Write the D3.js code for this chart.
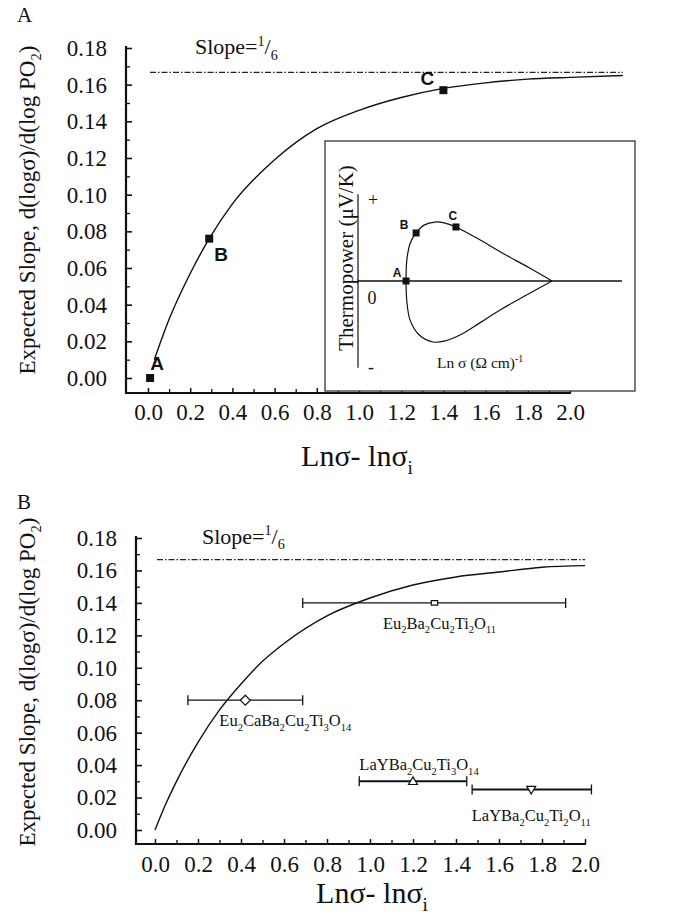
<!DOCTYPE html>
<html><head><meta charset="utf-8">
<script src="https://cdn.jsdelivr.net/npm/d3@7"></script>
<style>
body{margin:0;background:#fff}
svg text{font-family:"Liberation Serif","Times New Roman",serif;fill:#111}
</style></head><body>
<svg id="chart" width="679" height="919"></svg>
<script>
// ---- shared axis values ----
const xTickValues = [0.0, 0.2, 0.4, 0.6, 0.8, 1.0, 1.2, 1.4, 1.6, 1.8, 2.0];
const xMinorValues = [0.1, 0.3, 0.5, 0.7, 0.9, 1.1, 1.3, 1.5, 1.7, 1.9];
const yTickValues = [0.00, 0.02, 0.04, 0.06, 0.08, 0.10, 0.12, 0.14, 0.16, 0.18];
const yMinorValues = [0.01, 0.03, 0.05, 0.07, 0.09, 0.11, 0.13, 0.15, 0.17];
const slopeLimit = 1 / 6;

// ---- panel A: expected slope vs ln(sigma) - ln(sigma_i) ----
const curveAX = [0.03, 0.10, 0.20, 0.29, 0.40, 0.60, 0.80, 1.00, 1.20, 1.40, 1.60, 1.80, 2.00, 2.25];
const curveAY = [0.010, 0.032, 0.057, 0.076, 0.095, 0.119, 0.136, 0.146, 0.153, 0.158, 0.161, 0.163, 0.164, 0.165];
const stateNames = ["A", "B", "C"];
const stateX = [0.01, 0.29, 1.40];
const stateY = [0.000, 0.076, 0.157];

// inset: thermopower loop vs ln(sigma), arbitrary units
const loopUpperX = [0.182, 0.185, 0.198, 0.220, 0.250, 0.292, 0.330, 0.371, 0.450, 0.550, 0.650, 0.735];
const loopUpperY = [0.00, 0.26, 0.47, 0.593, 0.69, 0.728, 0.715, 0.667, 0.53, 0.34, 0.16, 0.00];
const loopLowerX = [0.182, 0.185, 0.197, 0.230, 0.284, 0.330, 0.386, 0.460, 0.538, 0.640, 0.735];
const loopLowerY = [0.00, -0.25, -0.48, -0.66, -0.753, -0.74, -0.667, -0.52, -0.358, -0.17, 0.00];
const loopStateX = [0.182, 0.220, 0.371];
const loopStateY = [0.000, 0.593, 0.667];

// ---- panel B: measured compounds against the expected curve ----
const curveBX = [0.00, 0.05, 0.10, 0.20, 0.30, 0.40, 0.50, 0.60, 0.80, 1.00, 1.20, 1.40, 1.60, 1.80, 2.00];
const curveBY = [0.000, 0.016, 0.030, 0.054, 0.074, 0.090, 0.104, 0.115, 0.132, 0.143, 0.151, 0.156, 0.159, 0.162, 0.163];
const sampleNames = ["Eu_{2}CaBa_{2}Cu_{2}Ti_{3}O_{14}", "Eu_{2}Ba_{2}Cu_{2}Ti_{2}O_{11}", "LaYBa_{2}Cu_{2}Ti_{3}O_{14}", "LaYBa_{2}Cu_{2}Ti_{2}O_{11}"];
const sampleX = [0.42, 1.30, 1.20, 1.75];
const sampleLo = [0.153, 0.687, 0.95, 1.475];
const sampleHi = [0.687, 1.91, 1.45, 2.03];
const sampleY = [0.080, 0.140, 0.030, 0.025];
const sampleMarker = ["diamond", "circle", "triangle", "triangleDown"];

const SERIF = "'Liberation Serif','Times New Roman',serif";
const SANS = "'Liberation Sans',Arial,sans-serif";
const svg = d3.select("#chart");

// text with _{sub} and ^{sup} runs
function rich(sel, str, size) {
  const re = /([_^])\{([^}]*)\}/g;
  let last = 0, m, cur = 0;
  sel.style("font-family", SERIF);
  function add(t, mode) {
    const target = mode === 0 ? 0 : (mode > 0 ? size * 0.26 : -size * 0.38);
    const ts = sel.append("tspan").text(t).attr("dy", target - cur);
    if (mode !== 0) ts.attr("font-size", size * 0.64);
    cur = target;
  }
  while ((m = re.exec(str))) {
    if (m.index > last) add(str.slice(last, m.index), 0);
    add(m[2], m[1] === "_" ? 1 : -1);
    last = re.lastIndex;
  }
  if (last < str.length) add(str.slice(last), 0);
  return sel;
}

function panel(cfg) {
  const g = svg.append("g");
  const x = d3.scaleLinear([0, 2], cfg.xRange);
  const y = d3.scaleLinear([0, 0.18], cfg.yRange);

  // y axis
  const ya = g.append("g").attr("transform", `translate(${cfg.axisX},0)`)
    .call(d3.axisLeft(y).tickValues(yTickValues).tickFormat(d3.format(".2f"))
      .tickSizeInner(-6).tickSizeOuter(0).tickPadding(19));
  ya.select(".domain").remove();
  ya.selectAll("line").attr("stroke", "#111").attr("stroke-width", 1.6);
  ya.selectAll("text").attr("font-size", 23).style("font-family", SERIF).attr("fill", "#111");
  const ym = g.append("g").attr("transform", `translate(${cfg.axisX},0)`)
    .call(d3.axisLeft(y).tickValues(yMinorValues).tickFormat("").tickSizeInner(-4).tickSizeOuter(0));
  ym.select(".domain").remove();
  ym.selectAll("line").attr("stroke", "#111").attr("stroke-width", 1.3);

  // x axis
  const xa = g.append("g").attr("transform", `translate(0,${cfg.axisY})`)
    .call(d3.axisBottom(x).tickValues(xTickValues).tickFormat(d3.format(".1f"))
      .tickSizeInner(-5).tickSizeOuter(0).tickPadding(cfg.xPad));
  xa.select(".domain").remove();
  xa.selectAll("line").attr("stroke", "#111").attr("stroke-width", 1.5);
  xa.selectAll("text").attr("font-size", 23).style("font-family", SERIF).attr("fill", "#111");
  const xm = g.append("g").attr("transform", `translate(0,${cfg.axisY})`)
    .call(d3.axisBottom(x).tickValues(xMinorValues).tickFormat("").tickSizeInner(-4).tickSizeOuter(0));
  xm.select(".domain").remove();
  xm.selectAll("line").attr("stroke", "#111").attr("stroke-width", 1.3);

  // axis lines
  g.append("line").attr("x1", cfg.axisX).attr("x2", cfg.axisX)
    .attr("y1", y(0.18) - 2).attr("y2", cfg.axisY + 1)
    .attr("stroke", "#111").attr("stroke-width", 2.2);
  g.append("line").attr("x1", cfg.axisX).attr("x2", x(2.0) + 1)
    .attr("y1", cfg.axisY).attr("y2", cfg.axisY)
    .attr("stroke", "#111").attr("stroke-width", 2.2);

  // titles
  const yt = g.append("text").attr("text-anchor", "middle").attr("font-size", 23)
    .attr("transform", `translate(${cfg.yTitleX},${cfg.yTitleY}) rotate(-90)`);
  rich(yt, "Expected Slope, d(logσ)/d(log PO_{2})", 23);
  const xt = g.append("text").attr("text-anchor", "middle").attr("font-size", 30)
    .attr("x", cfg.xTitleX).attr("y", cfg.xTitleY);
  rich(xt, "Lnσ- lnσ_{i}", 30);

  g.append("text").attr("x", cfg.tagX).attr("y", cfg.tagY).attr("font-size", 21)
    .style("font-family", SERIF).text(cfg.tag);

  // slope limit
  g.append("line").attr("x1", x(0.0) + 2).attr("x2", x(cfg.limitEnd))
    .attr("y1", y(slopeLimit)).attr("y2", y(slopeLimit))
    .attr("stroke", "#222").attr("stroke-width", 1.2).attr("stroke-dasharray", "6,2,1.5,2");
  const st = g.append("text").attr("x", x(0.0) + 47).attr("y", y(slopeLimit) - cfg.slopeDy).attr("font-size", 22);
  rich(st, "Slope=^{1}/_{6}", 22);

  return {g, x, y};
}

// ---------- panel A ----------
const A = panel({
  xRange: [148, 570], yRange: [378, 48], axisX: 126, axisY: 393, xPad: 11,
  yTitleX: 35, yTitleY: 210, xTitleX: 357, xTitleY: 466,
  tag: "A", tagX: 17, tagY: 22, limitEnd: 2.25, slopeDy: 18
});

// inset
const inset = A.g.append("g");
inset.append("rect").attr("x", 325).attr("y", 141).attr("width", 310).attr("height", 250)
  .attr("fill", "#fff").attr("stroke", "#333").attr("stroke-width", 1.3);
const xi = d3.scaleLinear([0, 1], [358, 622]);
const yi = d3.scaleLinear([-1, 1], [362, 200]);
inset.append("line").attr("x1", xi(0)).attr("x2", xi(0)).attr("y1", yi(1.07)).attr("y2", yi(-1.07))
  .attr("stroke", "#111").attr("stroke-width", 1.2);
inset.append("line").attr("x1", xi(0)).attr("x2", xi(1)).attr("y1", yi(0)).attr("y2", yi(0))
  .attr("stroke", "#111").attr("stroke-width", 1.4);
const loopLine = d3.line().x(d => xi(d[0])).y(d => yi(d[1])).curve(d3.curveCatmullRom);
inset.append("path").attr("d", loopLine(d3.zip(loopUpperX, loopUpperY)))
  .attr("fill", "none").attr("stroke", "#111").attr("stroke-width", 1.2);
inset.append("path").attr("d", loopLine(d3.zip(loopLowerX, loopLowerY)))
  .attr("fill", "none").attr("stroke", "#111").attr("stroke-width", 1.2);
inset.selectAll("rect.ls").data(d3.range(loopStateX.length)).join("rect").attr("class", "ls")
  .attr("x", i => xi(loopStateX[i]) - 3.5).attr("y", i => yi(loopStateY[i]) - 3.5)
  .attr("width", 7).attr("height", 7).attr("fill", "#111");
const loopLabelDx = [-9, -12, -3], loopLabelDy = [-4, -4, -7];
inset.selectAll("text.ll").data(d3.range(loopStateX.length)).join("text").attr("class", "ll")
  .attr("x", i => xi(loopStateX[i]) + loopLabelDx[i]).attr("y", i => yi(loopStateY[i]) + loopLabelDy[i])
  .attr("text-anchor", "middle").attr("font-size", 12).attr("font-weight", "bold")
  .style("font-family", SANS).text(i => stateNames[i]);
[["+", 373, 206], ["0", 372, 304], ["-", 371, 373]].forEach(([t, px, py]) =>
  inset.append("text").attr("x", px).attr("y", py).attr("text-anchor", "middle")
    .attr("font-size", 18).style("font-family", SERIF).text(t));
inset.append("text").attr("text-anchor", "middle").attr("font-size", 21)
  .style("font-family", SERIF)
  .attr("transform", "translate(353,258) rotate(-90)").text("Thermopower (μV/K)");
const il = inset.append("text").attr("x", 437).attr("y", 368).attr("font-size", 15.5);
rich(il, "Ln σ (Ω cm)^{-1}", 15.5);

// curve A and states
const lineA = d3.line().x(d => A.x(d[0])).y(d => A.y(d[1])).curve(d3.curveMonotoneX);
A.g.append("path").attr("d", lineA(d3.zip(curveAX, curveAY)))
  .attr("fill", "none").attr("stroke", "#111").attr("stroke-width", 1.4);
A.g.selectAll("rect.st").data(d3.range(stateX.length)).join("rect").attr("class", "st")
  .attr("x", i => A.x(stateX[i]) - 4).attr("y", i => A.y(stateY[i]) - 4)
  .attr("width", 8).attr("height", 8).attr("fill", "#111");
const stateDx = [7, 12, -16], stateDy = [-8, 22, -5];
A.g.selectAll("text.sl").data(d3.range(stateX.length)).join("text").attr("class", "sl")
  .attr("x", i => A.x(stateX[i]) + stateDx[i]).attr("y", i => A.y(stateY[i]) + stateDy[i])
  .attr("text-anchor", "middle").attr("font-size", 19).attr("font-weight", "bold")
  .style("font-family", SANS).text(i => stateNames[i]);

// ---------- panel B ----------
const B = panel({
  xRange: [155, 585], yRange: [830, 538], axisX: 136, axisY: 844, xPad: 12,
  yTitleX: 35, yTitleY: 682, xTitleX: 372, xTitleY: 903,
  tag: "B", tagX: 17, tagY: 509, limitEnd: 2.0, slopeDy: 16
});
const lineB = d3.line().x(d => B.x(d[0])).y(d => B.y(d[1])).curve(d3.curveMonotoneX);
B.g.append("path").attr("d", lineB(d3.zip(curveBX, curveBY)))
  .attr("fill", "none").attr("stroke", "#111").attr("stroke-width", 1.4);

const barWidth = [1.2, 1.1, 2, 2];
const symbols = {
  diamond: s => `M0,${-s}L${s},0L0,${s}L${-s},0Z`,
  circle: s => `M${-s},${-s * 0.7}h${2 * s}v${1.4 * s}h${-2 * s}Z`,
  triangle: s => `M0,${-s}L${s},${s * 0.7}L${-s},${s * 0.7}Z`,
  triangleDown: s => `M0,${s}L${s},${-s * 0.7}L${-s},${-s * 0.7}Z`
};
const symSize = [5, 3.2, 4.5, 4.5];
const labelAnchor = ["start", "middle", "middle", "middle"];
const labelDx = [-26, 5, 6, 0], labelDy = [26, 26, -11, 32];
sampleNames.forEach((name, i) => {
  const yy = B.y(sampleY[i]);
  B.g.append("line").attr("x1", B.x(sampleLo[i])).attr("x2", B.x(sampleHi[i]))
    .attr("y1", yy).attr("y2", yy).attr("stroke", "#111").attr("stroke-width", barWidth[i]);
  [sampleLo[i], sampleHi[i]].forEach(v => {
    B.g.append("line").attr("x1", B.x(v)).attr("x2", B.x(v)).attr("y1", yy - 5).attr("y2", yy + 5)
      .attr("stroke", "#111").attr("stroke-width", 1.3);
  });
  B.g.append("path").attr("transform", `translate(${B.x(sampleX[i])},${yy})`)
    .attr("d", symbols[sampleMarker[i]](symSize[i]))
    .attr("fill", "#fff").attr("stroke", "#111").attr("stroke-width", 1.2);
  const t = B.g.append("text").attr("x", B.x(sampleX[i]) + labelDx[i]).attr("y", yy + labelDy[i])
    .attr("text-anchor", labelAnchor[i]).attr("font-size", 16.5);
  rich(t, name, 16.5);
});
</script>
</body></html>
